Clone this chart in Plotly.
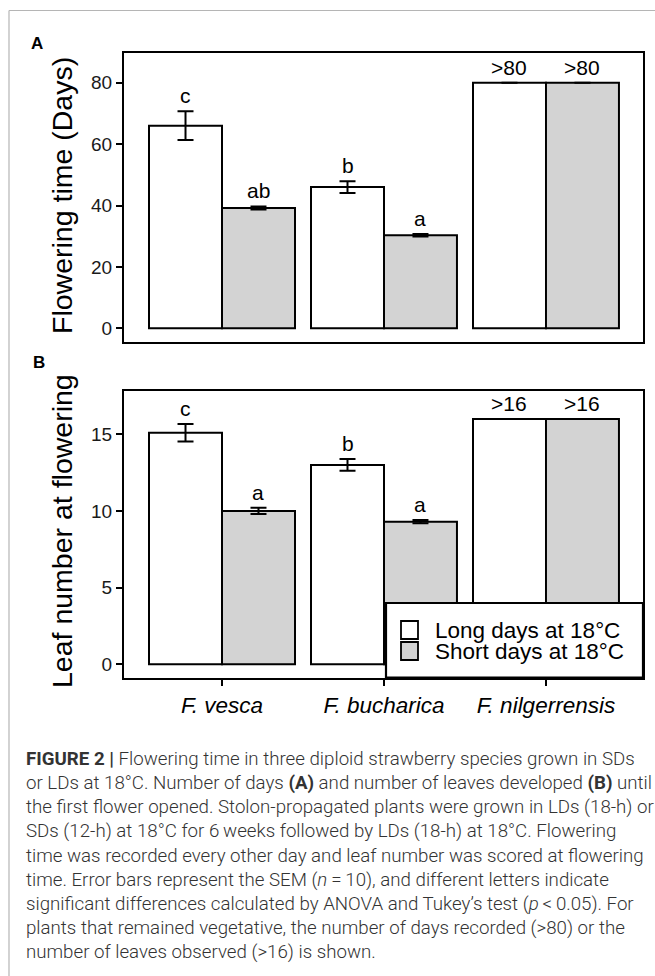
import plotly.graph_objects as go

# ---- data ---------------------------------------------------------------
species = ["F. vesca", "F. bucharica", "F. nilgerrensis"]
series_names = ["Long days at 18°C", "Short days at 18°C"]
series_colors = ["#ffffff", "#d3d3d3"]

days_ld = [66.0, 46.0, 80.0]
days_sd = [39.2, 30.3, 80.0]
days_ld_sem = [4.7, 1.9, 0.0]
days_sd_sem = [0.5, 0.4, 0.0]
days_letters_ld = ["c", "b", ">80"]
days_letters_sd = ["ab", "a", ">80"]

leaves_ld = [15.1, 13.0, 16.0]
leaves_sd = [10.0, 9.3, 16.0]
leaves_ld_sem = [0.57, 0.38, 0.0]
leaves_sd_sem = [0.2, 0.1, 0.0]
leaves_letters_ld = ["c", "b", ">16"]
leaves_letters_sd = ["a", "a", ">16"]

caption_lines = [
    "<b>FIGURE 2 |</b> Flowering time in three diploid strawberry species grown in SDs",
    "or LDs at 18°C. Number of days <b>(A)</b> and number of leaves developed <b>(B)</b> until",
    "the first flower opened. Stolon-propagated plants were grown in LDs (18-h) or",
    "SDs (12-h) at 18°C for 6\u2009weeks followed by LDs (18-h) at 18°C. Flowering",
    "time was recorded every other day and leaf number was scored at flowering",
    "time. Error bars represent the SEM (<i>n</i>\u2009=\u200910), and different letters indicate",
    "significant differences calculated by ANOVA and Tukey\u2019s test (<i>p</i>\u2009&lt;\u20090.05). For",
    "plants that remained vegetative, the number of days recorded (&gt;80) or the",
    "number of leaves observed (&gt;16) is shown.",
]

# ---- page geometry (pixels) --------------------------------------------
W, H = 655, 976
BARGAP = 0.099


def px(x):
    return x / W


def py(y):
    return 1 - y / H


FONT = "Liberation Sans, Arial, sans-serif"
CAP_FONT = "Roboto, Liberation Sans, sans-serif"

fig = go.Figure()

panels = [
    ("x", "y", days_ld, days_sd, days_ld_sem, days_sd_sem, days_letters_ld, days_letters_sd),
    ("x2", "y2", leaves_ld, leaves_sd, leaves_ld_sem, leaves_sd_sem, leaves_letters_ld, leaves_letters_sd),
]

annotations = []
half = (1 - BARGAP) / 4  # offset of each bar centre from the category centre

for xa, ya, ld, sd, ld_e, sd_e, lab_ld, lab_sd in panels:
    for name, col, vals, errs in [
        (series_names[0], series_colors[0], ld, ld_e),
        (series_names[1], series_colors[1], sd, sd_e),
    ]:
        fig.add_trace(go.Bar(
            x=species, y=vals, name=name, xaxis=xa, yaxis=ya,
            marker=dict(color=col, line=dict(color="black", width=2)),
            error_y=dict(type="data", array=errs, color="black", thickness=2, width=8),
            showlegend=False,
        ))
    for i in range(len(species)):
        for off, vals, errs, labs in [(-half, ld, ld_e, lab_ld), (half, sd, sd_e, lab_sd)]:
            annotations.append(dict(
                x=i + off, y=vals[i] + errs[i], xref=xa, yref=ya,
                text=labs[i], showarrow=False, xanchor="center", yanchor="bottom", yshift=2,
                font=dict(family=FONT, size=21, color="black"),
            ))

xr = [-0.605, 2.599]
common_x = dict(range=xr, showline=True, linewidth=2.2, linecolor="black", mirror=True,
                showgrid=False, zeroline=False, domain=[px(124), px(643)])
fig.update_layout(
    width=W, height=H, margin=dict(l=0, r=0, t=0, b=0),
    paper_bgcolor="white", plot_bgcolor="white",
    barmode="group", bargap=BARGAP, bargroupgap=0,
    xaxis=dict(**common_x, anchor="y", showticklabels=False, ticks=""),
    yaxis=dict(range=[-4.36, 89.58], domain=[py(341.7), py(53.3)], anchor="x",
               showline=True, linewidth=2.2, linecolor="black", mirror=True,
               showgrid=False, zeroline=False, ticks="outside", ticklen=6, tickwidth=1.5,
               tickcolor="black", dtick=20, tick0=0,
               tickfont=dict(family=FONT, size=19, color="#1a1a1a")),
    xaxis2=dict(**common_x, anchor="y2", ticks="outside", ticklen=6, tickwidth=1.5,
                tickcolor="black",
                tickfont=dict(family=FONT, size=22.5, color="black", style="italic")),
    yaxis2=dict(range=[-0.87, 17.84], domain=[py(677.6), py(390.7)], anchor="x2",
                showline=True, linewidth=2.2, linecolor="black", mirror=True,
                showgrid=False, zeroline=False, ticks="outside", ticklen=6, tickwidth=1.5,
                tickcolor="black", dtick=5, tick0=0,
                tickfont=dict(family=FONT, size=19, color="#1a1a1a")),
)

# axis titles and panel letters
annotations += [
    dict(x=px(62), y=py(196), xref="paper", yref="paper", text="Flowering time (Days)",
         textangle=-90, showarrow=False, xanchor="center", yanchor="middle",
         font=dict(family=FONT, size=28.5, color="black")),
    dict(x=px(62), y=py(531), xref="paper", yref="paper", text="Leaf number at flowering",
         textangle=-90, showarrow=False, xanchor="center", yanchor="middle",
         font=dict(family=FONT, size=28.5, color="black")),
    dict(x=px(29), y=py(43), xref="paper", yref="paper", text="<b>A</b>",
         xanchor="left", yanchor="middle",
         showarrow=False, font=dict(family=FONT, size=17, color="black")),
    dict(x=px(31), y=py(363), xref="paper", yref="paper", text="<b>B</b>",
         xanchor="left", yanchor="middle",
         showarrow=False, font=dict(family=FONT, size=17, color="black")),
]

# legend box
shapes = [
    dict(type="rect", xref="paper", yref="paper", x0=px(386), x1=px(643), y0=py(677.6), y1=py(603),
         fillcolor="white", line=dict(color="black", width=2.2), layer="above"),
]
for k, (name, col) in enumerate(zip(series_names, series_colors)):
    top = 621 + k * 21
    shapes.append(dict(type="rect", xref="paper", yref="paper", x0=px(401), x1=px(418),
                       y0=py(top + 18), y1=py(top), fillcolor=col,
                       line=dict(color="black", width=1.8), layer="above"))
    annotations.append(dict(x=px(433), y=py(top + 9), xref="paper", yref="paper", text=name,
                            xanchor="left", yanchor="middle", showarrow=False,
                            font=dict(family=FONT, size=22.5, color="black")))

# page frame
shapes += [
    dict(type="line", xref="paper", yref="paper", x0=px(9), x1=1.0, y0=py(10.5), y1=py(10.5),
         line=dict(color="#b5b5b5", width=1.2)),
    dict(type="line", xref="paper", yref="paper", x0=px(9), x1=px(9), y0=py(10.5), y1=0,
         line=dict(color="#b5b5b5", width=1.2)),
]

# caption
for j, line in enumerate(caption_lines):
    base = 766.7 + j * 24.2
    annotations.append(dict(x=px(24), y=py(base + 5), xref="paper", yref="paper", text=line,
                            xanchor="left", yanchor="bottom", showarrow=False,
                            font=dict(family=CAP_FONT, size=18.7, color="#333333", weight=300)))

fig.update_layout(annotations=annotations, shapes=shapes)
fig.write_html("out.html")
